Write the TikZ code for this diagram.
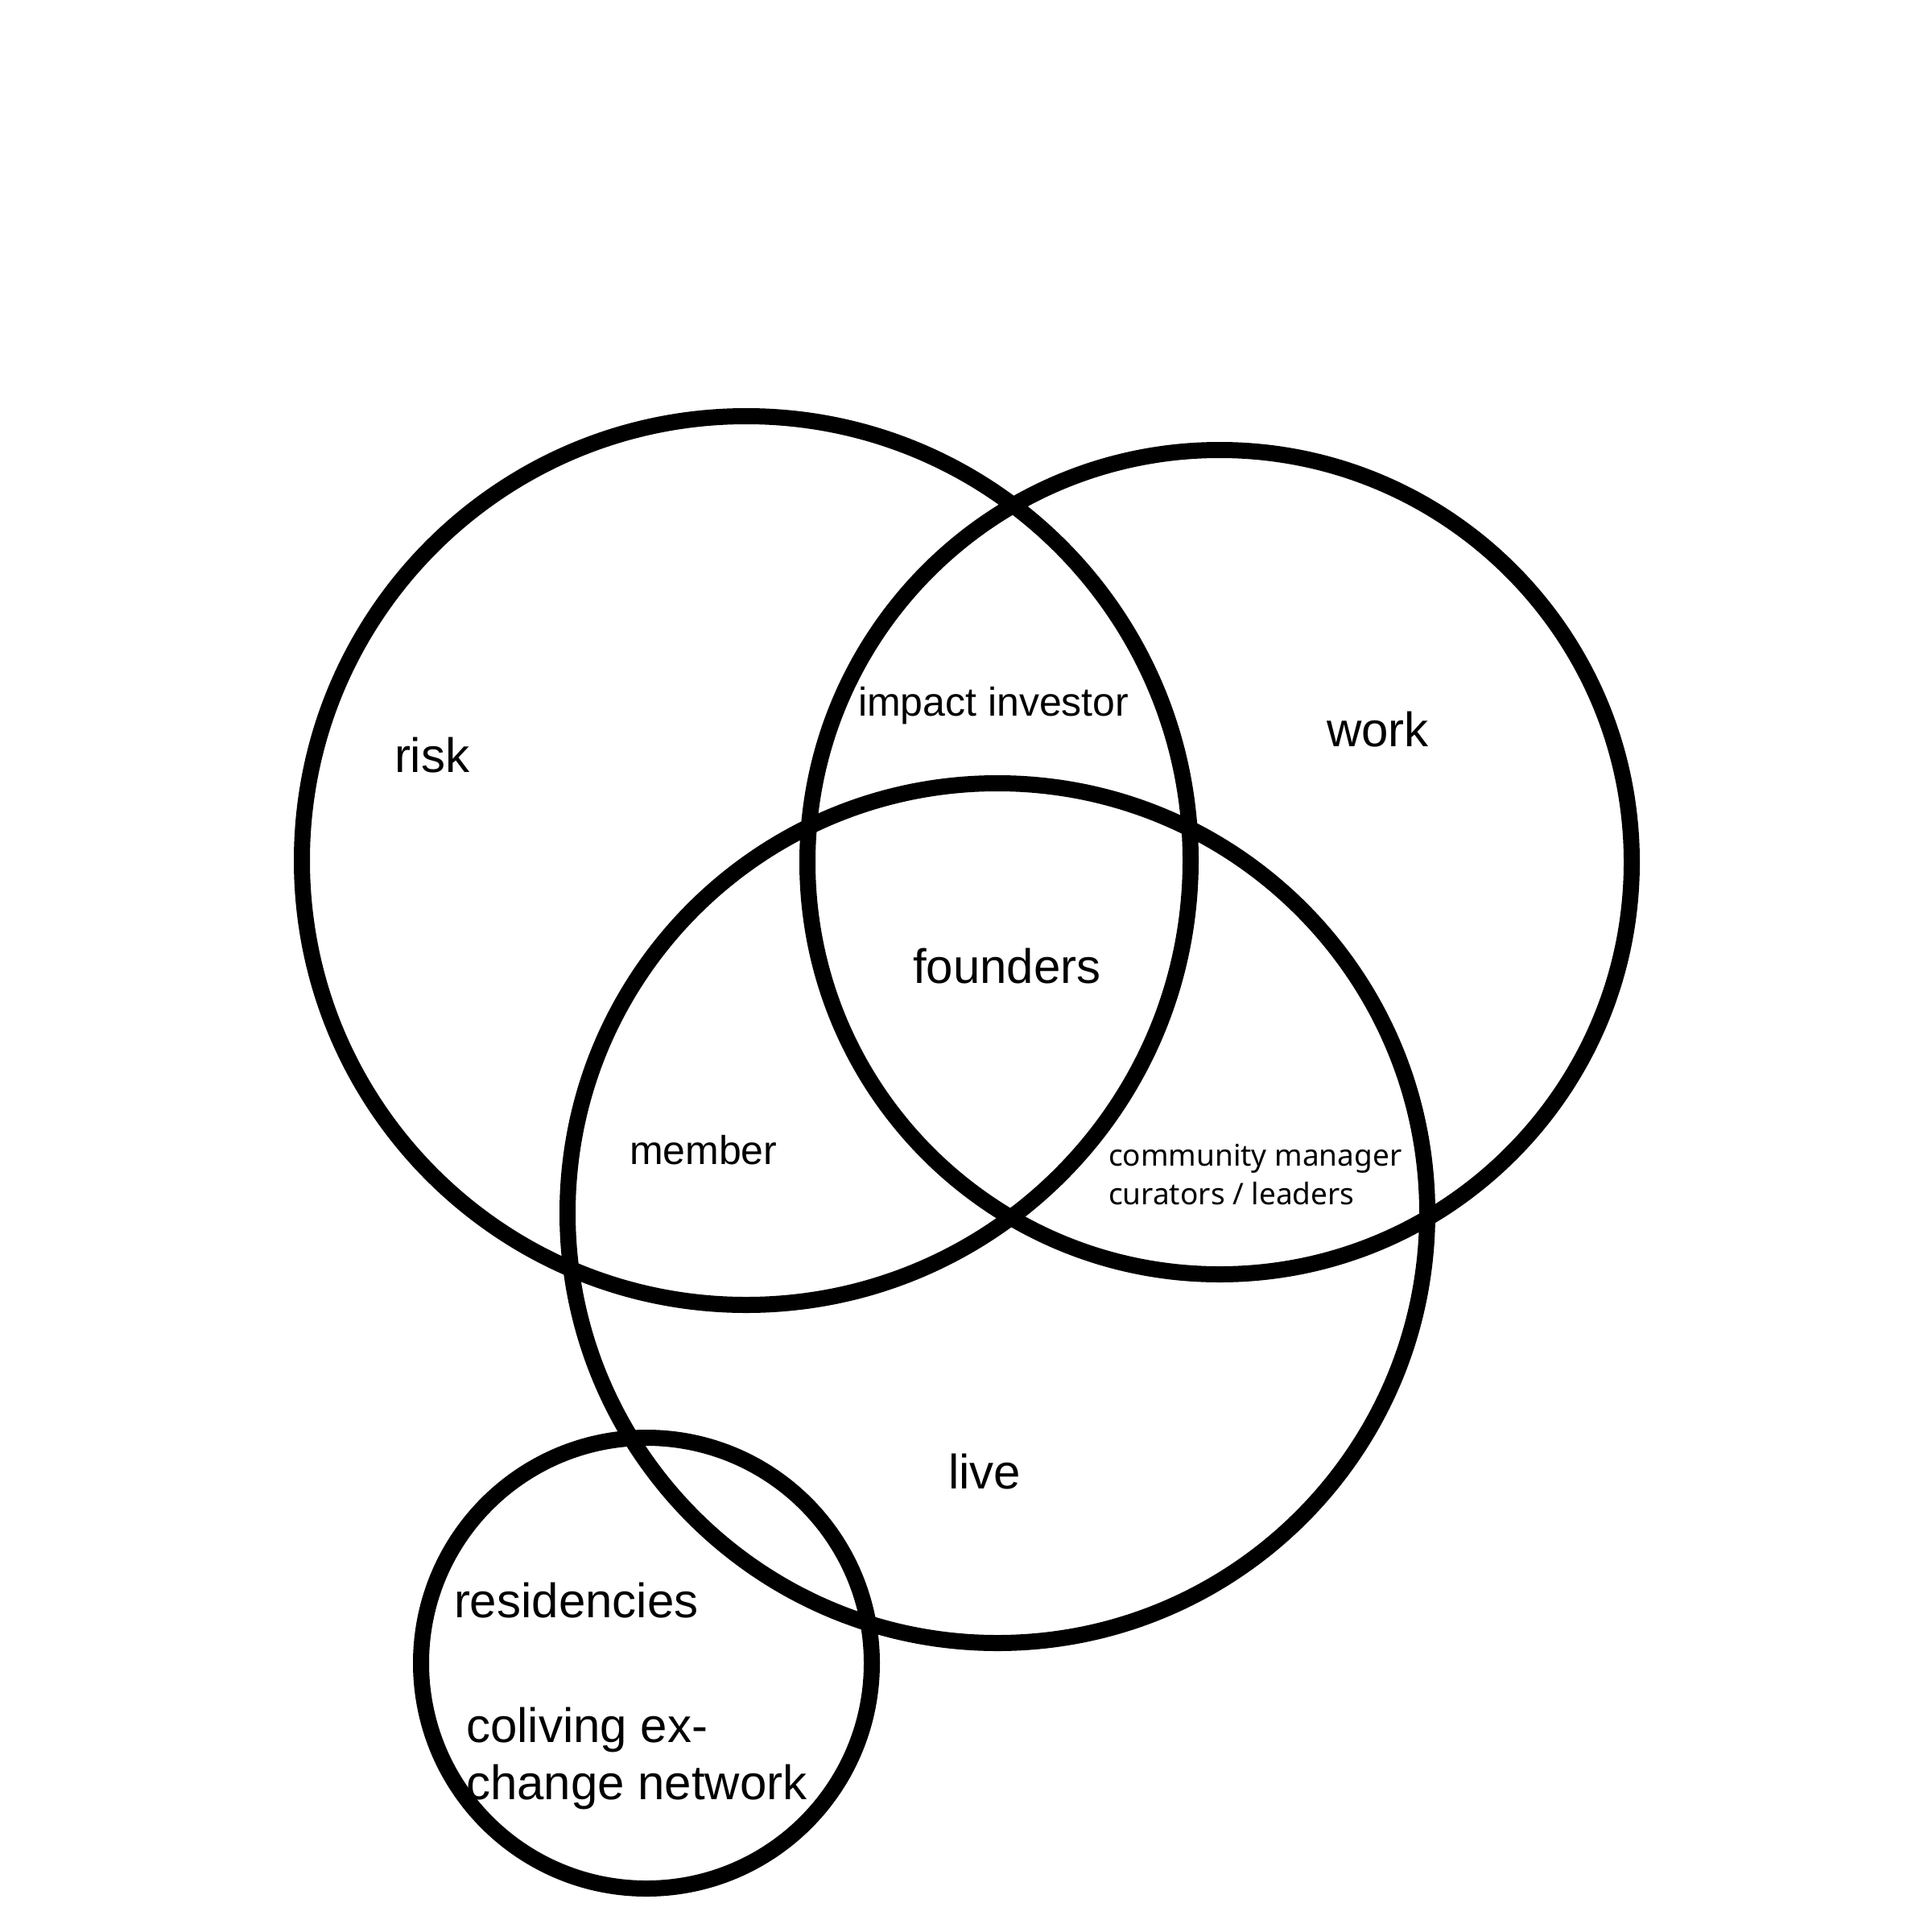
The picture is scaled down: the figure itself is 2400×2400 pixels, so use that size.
\documentclass[tikz,border=0pt]{standalone}
\usepackage{fontspec}
\setmainfont{Liberation Sans}
\newfontfamily\notosans{Noto Sans}
\begin{document}
\begin{tikzpicture}[x=1pt,y=-1pt,
  ring/.style={draw=black,line width=20pt},
  lbl/.style={inner sep=0pt,outer sep=0pt,anchor=base west,font=\fontsize{60}{72}\selectfont},
  lblm/.style={inner sep=0pt,outer sep=0pt,anchor=base west,font=\fontsize{50}{60}\selectfont},
  lbls/.style={inner sep=0pt,outer sep=0pt,anchor=base west,font=\notosans\fontsize{37}{48}\selectfont}]
\useasboundingbox[fill=white] (0,0) rectangle (2400,2400);
% circle centres
\coordinate (riskc) at (927,1069);
\coordinate (workc) at (1515,1071);
\coordinate (livec) at (1239,1507);
\coordinate (resc) at (803,2066);
% circles
\draw[ring] (riskc) circle (552);
\draw[ring] (workc) circle (512);
\draw[ring] (livec) circle (534);
\draw[ring] (resc) circle (280);
% labels
\node[lbl] (risk) at (490,959) {risk};
\node[lbl] (work) at (1648,927) {work};
\node[lblm] (impact) at (1066,889) {impact investor};
\node[lbl] (founders) at (1134,1221) {founders};
\node[lblm] (member) at (782,1446) {member};
\node[lbls] (cm1) at (1377,1448) {community manager};
\node[lbls] (cm2) at (1377,1496) {curators / leaders};
\node[lbl] (live) at (1178,1849) {live};
\node[lbl] (residencies) at (564,2009) {residencies};
\node[lbl] (cx1) at (579,2164) {coliving ex-};
\node[lbl] (cx2) at (579,2235) {change network};
\end{tikzpicture}
\end{document}
